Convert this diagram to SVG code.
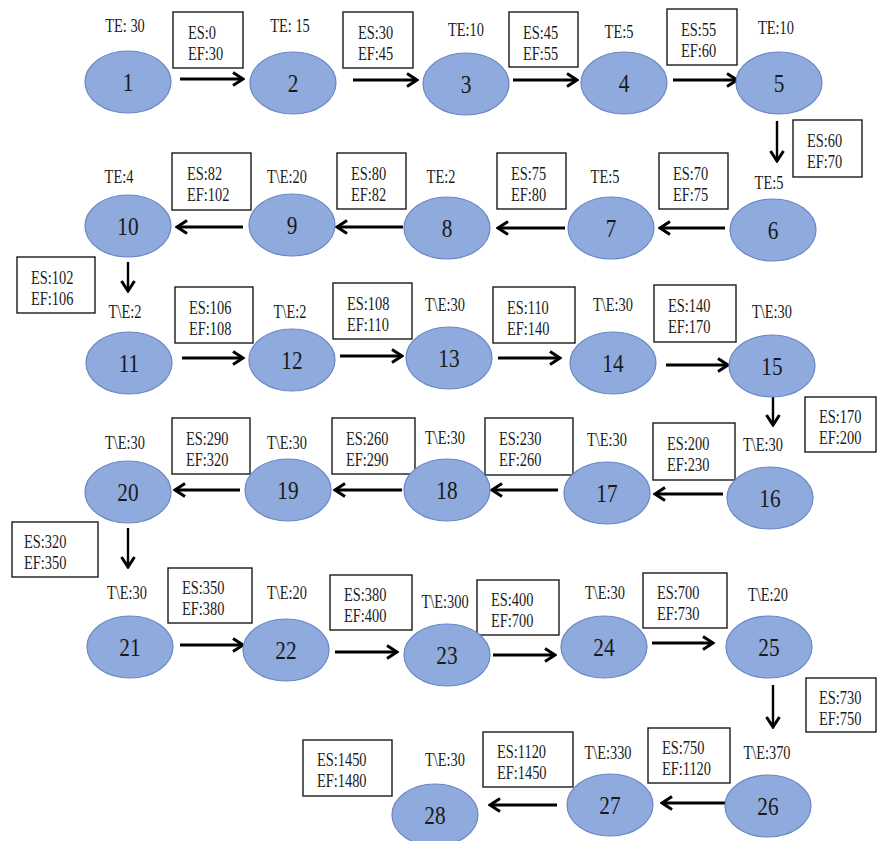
<svg xmlns="http://www.w3.org/2000/svg" width="878" height="841" viewBox="0 0 878 841">
<style>
text{font-family:"Liberation Serif","Times New Roman",serif;fill:#1a1a1a;transform-box:fill-box;}
.te{font-size:18px;text-anchor:middle;transform-origin:center;transform:scaleX(0.8);}
.num{font-size:26px;text-anchor:middle;transform-origin:center;transform:scaleX(0.82);}
.bx{font-size:18px;transform-origin:left center;transform:scaleX(0.8);}
ellipse{fill:#8faadc;stroke:#6a87c6;stroke-width:1.2;}
rect{fill:#fff;stroke:#1a1a1a;stroke-width:1.4;}
.c line{stroke:#000;stroke-width:3;marker-end:url(#ah);}
.c line.v{stroke-width:2.4;}
</style>
<defs>
<marker id="ah" markerUnits="userSpaceOnUse" viewBox="0 0 14 16" refX="12" refY="8" markerWidth="14" markerHeight="16" orient="auto">
<path d="M2,1.5 L12,8 L2,14.5" fill="none" stroke="#000" stroke-width="3"/>
</marker>
</defs>
<rect x="0" y="0" width="878" height="841" style="fill:#fff;stroke:none"/>
<g id="connectors" class="c">
<line x1="180" y1="79" x2="243" y2="79"/>
<line x1="353" y1="80" x2="417" y2="80"/>
<line x1="513" y1="80" x2="577" y2="80"/>
<line x1="673" y1="80" x2="737" y2="80"/>
<line class="v" x1="777" y1="121" x2="777" y2="161"/>
<line x1="725" y1="228" x2="660" y2="228"/>
<line x1="565" y1="228" x2="498" y2="228"/>
<line x1="403" y1="227" x2="337" y2="227"/>
<line x1="243" y1="227" x2="177" y2="227"/>
<line class="v" x1="128" y1="262" x2="128" y2="291"/>
<line x1="182" y1="358" x2="243" y2="358"/>
<line x1="340" y1="356" x2="402" y2="356"/>
<line x1="498" y1="358" x2="560" y2="358"/>
<line x1="666" y1="365" x2="728" y2="365"/>
<line class="v" x1="773" y1="397" x2="773" y2="425"/>
<line x1="723" y1="494" x2="655" y2="494"/>
<line x1="558" y1="490" x2="492" y2="490"/>
<line x1="402" y1="490" x2="335" y2="490"/>
<line x1="240" y1="490" x2="175" y2="490"/>
<line class="v" x1="128" y1="528" x2="128" y2="567"/>
<line x1="180" y1="645" x2="243" y2="645"/>
<line x1="335" y1="652" x2="397" y2="652"/>
<line x1="493" y1="655" x2="555" y2="655"/>
<line x1="652" y1="643" x2="713" y2="643"/>
<line class="v" x1="773" y1="685" x2="773" y2="727"/>
<line x1="727" y1="803" x2="662" y2="803"/>
<line x1="557" y1="805" x2="490" y2="805"/>
</g>
<g id="labels">
<g id="b1"><rect x="173" y="12" width="70" height="56"/><text class="bx" x="188" y="39">ES:0</text><text class="bx" x="188" y="60">EF:30</text></g>
<g id="b2"><rect x="343" y="12" width="70" height="56"/><text class="bx" x="358" y="39">ES:30</text><text class="bx" x="358" y="60">EF:45</text></g>
<g id="b3"><rect x="509" y="12" width="69" height="55"/><text class="bx" x="523" y="39">ES:45</text><text class="bx" x="523" y="60">EF:55</text></g>
<g id="b4"><rect x="667" y="9" width="70" height="56"/><text class="bx" x="681" y="36">ES:55</text><text class="bx" x="681" y="57">EF:60</text></g>
<g id="b5"><rect x="793" y="120" width="69" height="57"/><text class="bx" x="807" y="147">ES:60</text><text class="bx" x="807" y="168">EF:70</text></g>
<g id="b6"><rect x="659" y="153" width="69" height="56"/><text class="bx" x="673" y="180">ES:70</text><text class="bx" x="673" y="201">EF:75</text></g>
<g id="b7"><rect x="497" y="153" width="69" height="56"/><text class="bx" x="511" y="180">ES:75</text><text class="bx" x="511" y="201">EF:80</text></g>
<g id="b8"><rect x="337" y="153" width="69" height="56"/><text class="bx" x="351" y="180">ES:80</text><text class="bx" x="351" y="201">EF:82</text></g>
<g id="b9"><rect x="172" y="153" width="79" height="57"/><text class="bx" x="187" y="180">ES:82</text><text class="bx" x="187" y="201">EF:102</text></g>
<g id="b10"><rect x="17" y="257" width="78" height="56"/><text class="bx" x="31" y="284">ES:102</text><text class="bx" x="31" y="305">EF:106</text></g>
<g id="b11"><rect x="175" y="287" width="78" height="56"/><text class="bx" x="189" y="314">ES:106</text><text class="bx" x="189" y="335">EF:108</text></g>
<g id="b12"><rect x="333" y="283" width="79" height="56"/><text class="bx" x="347" y="310">ES:108</text><text class="bx" x="347" y="331">EF:110</text></g>
<g id="b13"><rect x="493" y="287" width="82" height="56"/><text class="bx" x="507" y="314">ES:110</text><text class="bx" x="507" y="335">EF:140</text></g>
<g id="b14"><rect x="654" y="285" width="82" height="57"/><text class="bx" x="668" y="312">ES:140</text><text class="bx" x="668" y="333">EF:170</text></g>
<g id="b15"><rect x="805" y="397" width="71" height="55"/><text class="bx" x="819" y="423">ES:170</text><text class="bx" x="819" y="444">EF:200</text></g>
<g id="b16"><rect x="653" y="423" width="82" height="57"/><text class="bx" x="667" y="450">ES:200</text><text class="bx" x="667" y="471">EF:230</text></g>
<g id="b17"><rect x="485" y="418" width="88" height="57"/><text class="bx" x="499" y="445">ES:230</text><text class="bx" x="499" y="466">EF:260</text></g>
<g id="b18"><rect x="332" y="418" width="83" height="56"/><text class="bx" x="346" y="445">ES:260</text><text class="bx" x="346" y="466">EF:290</text></g>
<g id="b19"><rect x="172" y="418" width="78" height="56"/><text class="bx" x="186" y="445">ES:290</text><text class="bx" x="186" y="466">EF:320</text></g>
<g id="b20"><rect x="12" y="522" width="86" height="55"/><text class="bx" x="24" y="548">ES:320</text><text class="bx" x="24" y="569">EF:350</text></g>
<g id="b21"><rect x="168" y="568" width="84" height="55"/><text class="bx" x="182" y="594">ES:350</text><text class="bx" x="182" y="615">EF:380</text></g>
<g id="b22"><rect x="330" y="575" width="82" height="55"/><text class="bx" x="344" y="601">ES:380</text><text class="bx" x="344" y="622">EF:400</text></g>
<g id="b23"><rect x="477" y="580" width="82" height="55"/><text class="bx" x="491" y="606">ES:400</text><text class="bx" x="491" y="627">EF:700</text></g>
<g id="b24"><rect x="643" y="573" width="84" height="55"/><text class="bx" x="657" y="599">ES:700</text><text class="bx" x="657" y="620">EF:730</text></g>
<g id="b25"><rect x="806" y="678" width="70" height="54"/><text class="bx" x="819" y="704">ES:730</text><text class="bx" x="819" y="725">EF:750</text></g>
<g id="b26"><rect x="648" y="728" width="82" height="55"/><text class="bx" x="662" y="754">ES:750</text><text class="bx" x="662" y="775">EF:1120</text></g>
<g id="b27"><rect x="483" y="732" width="90" height="55"/><text class="bx" x="497" y="758">ES:1120</text><text class="bx" x="497" y="779">EF:1450</text></g>
<g id="b28"><rect x="303" y="740" width="89" height="56"/><text class="bx" x="317" y="766">ES:1450</text><text class="bx" x="317" y="787">EF:1480</text></g>
</g>
<g id="n1"><text class="te" x="125" y="32">TE: 30</text><ellipse cx="128" cy="82" rx="43" ry="31"/><text class="num" x="128" y="91">1</text></g>
<g id="n2"><text class="te" x="290" y="32">TE: 15</text><ellipse cx="293" cy="83" rx="43" ry="31"/><text class="num" x="293" y="92">2</text></g>
<g id="n3"><text class="te" x="466" y="36">TE:10</text><ellipse cx="466" cy="84" rx="43" ry="31"/><text class="num" x="466" y="93">3</text></g>
<g id="n4"><text class="te" x="619" y="38">TE:5</text><ellipse cx="624" cy="83" rx="43" ry="31"/><text class="num" x="624" y="92">4</text></g>
<g id="n5"><text class="te" x="776" y="34">TE:10</text><ellipse cx="779" cy="83" rx="43" ry="31"/><text class="num" x="779" y="92">5</text></g>
<g id="n6"><text class="te" x="769" y="189">TE:5</text><ellipse cx="773" cy="230" rx="43" ry="31"/><text class="num" x="773" y="239">6</text></g>
<g id="n7"><text class="te" x="605" y="183">TE:5</text><ellipse cx="611" cy="228" rx="43" ry="31"/><text class="num" x="611" y="237">7</text></g>
<g id="n8"><text class="te" x="441" y="183">TE:2</text><ellipse cx="447" cy="228" rx="43" ry="31"/><text class="num" x="447" y="237">8</text></g>
<g id="n9"><text class="te" x="287" y="183">T\E:20</text><ellipse cx="292" cy="225" rx="43" ry="31"/><text class="num" x="292" y="234">9</text></g>
<g id="n10"><text class="te" x="119" y="183">TE:4</text><ellipse cx="128" cy="226" rx="43" ry="31"/><text class="num" x="128" y="235">10</text></g>
<g id="n11"><text class="te" x="125" y="318">T\E:2</text><ellipse cx="129" cy="363" rx="43" ry="31"/><text class="num" x="129" y="372">11</text></g>
<g id="n12"><text class="te" x="290" y="318">T\E:2</text><ellipse cx="292" cy="360" rx="43" ry="31"/><text class="num" x="292" y="369">12</text></g>
<g id="n13"><text class="te" x="445" y="311">T\E:30</text><ellipse cx="449" cy="358" rx="43" ry="31"/><text class="num" x="449" y="367">13</text></g>
<g id="n14"><text class="te" x="613" y="311">T\E:30</text><ellipse cx="613" cy="363" rx="43" ry="31"/><text class="num" x="613" y="372">14</text></g>
<g id="n15"><text class="te" x="772" y="318">T\E:30</text><ellipse cx="772" cy="366" rx="43" ry="31"/><text class="num" x="772" y="375">15</text></g>
<g id="n16"><text class="te" x="763" y="451">T\E:30</text><ellipse cx="770" cy="498" rx="43" ry="31"/><text class="num" x="770" y="507">16</text></g>
<g id="n17"><text class="te" x="607" y="446">T\E:30</text><ellipse cx="607" cy="493" rx="43" ry="31"/><text class="num" x="607" y="502">17</text></g>
<g id="n18"><text class="te" x="445" y="444">T\E:30</text><ellipse cx="447" cy="490" rx="43" ry="31"/><text class="num" x="447" y="499">18</text></g>
<g id="n19"><text class="te" x="287" y="449">T\E:30</text><ellipse cx="288" cy="490" rx="43" ry="31"/><text class="num" x="288" y="499">19</text></g>
<g id="n20"><text class="te" x="125" y="449">T\E:30</text><ellipse cx="128" cy="492" rx="43" ry="31"/><text class="num" x="128" y="501">20</text></g>
<g id="n21"><text class="te" x="127" y="599">T\E:30</text><ellipse cx="130" cy="647" rx="43" ry="31"/><text class="num" x="130" y="656">21</text></g>
<g id="n22"><text class="te" x="287" y="599">T\E:20</text><ellipse cx="286" cy="650" rx="43" ry="31"/><text class="num" x="286" y="659">22</text></g>
<g id="n23"><text class="te" x="445" y="608">T\E:300</text><ellipse cx="447" cy="655" rx="43" ry="31"/><text class="num" x="447" y="664">23</text></g>
<g id="n24"><text class="te" x="605" y="599">T\E:30</text><ellipse cx="604" cy="647" rx="43" ry="31"/><text class="num" x="604" y="656">24</text></g>
<g id="n25"><text class="te" x="768" y="601">T\E:20</text><ellipse cx="769" cy="647" rx="43" ry="31"/><text class="num" x="769" y="656">25</text></g>
<g id="n26"><text class="te" x="767" y="759">T\E:370</text><ellipse cx="768" cy="806" rx="43" ry="31"/><text class="num" x="768" y="815">26</text></g>
<g id="n27"><text class="te" x="608" y="759">T\E:330</text><ellipse cx="610" cy="805" rx="43" ry="31"/><text class="num" x="610" y="814">27</text></g>
<g id="n28"><text class="te" x="445" y="766">T\E:30</text><ellipse cx="435" cy="815" rx="43" ry="31"/><text class="num" x="435" y="824">28</text></g>
</svg>
